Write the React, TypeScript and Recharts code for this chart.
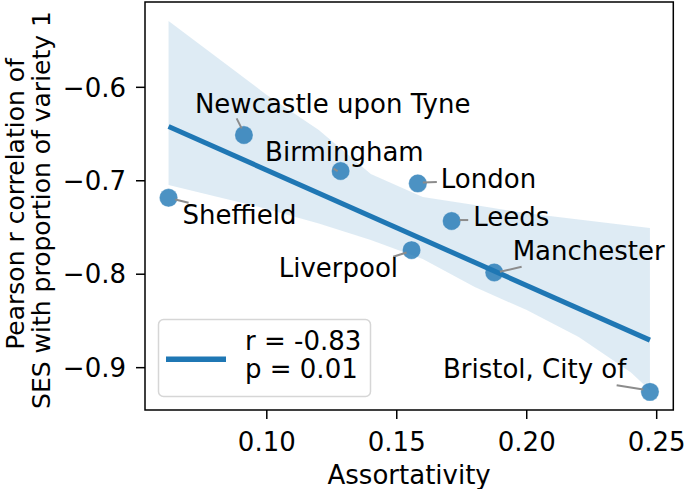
import React from "react";
import {
  Area,
  ComposedChart,
  Line,
  ReferenceArea,
  Scatter,
  XAxis,
  YAxis,
} from "recharts";

const FONT = '"DejaVu Sans", Verdana, sans-serif';
const BLUE = "#1f77b4";
const FS = 26;

// points
const cities = [
  "Sheffield",
  "Newcastle upon Tyne",
  "Birmingham",
  "London",
  "Leeds",
  "Liverpool",
  "Manchester",
  "Bristol, City of",
];
const assortativity = [0.0622, 0.0912, 0.1284, 0.1581, 0.1711, 0.1557, 0.1875, 0.2474];
const correlation = [-0.7182, -0.6511, -0.6896, -0.7028, -0.7431, -0.7742, -0.7981, -0.9259];

// fitted line, ends only
const fitX = [0.0622, 0.2474];
const fitY = [-0.642, -0.8705];

// confidence band edges
const bandX = [0.0622, 0.08, 0.1, 0.12, 0.14, 0.16, 0.18, 0.2, 0.22, 0.24, 0.2474];
const bandUpper = [-0.529, -0.5662, -0.6082, -0.6457, -0.6928, -0.7175, -0.726, -0.7348, -0.7414, -0.7482, -0.7506];
const bandLower = [-0.7046, -0.7165, -0.7301, -0.7458, -0.7634, -0.7838, -0.8138, -0.8384, -0.8673, -0.9048, -0.9241];

const xTicks = [0.1, 0.15, 0.2, 0.25];
const yTicks = [-0.6, -0.7, -0.8, -0.9];
const xDomain = [0.05314, 0.25639];
const yDomain = [-0.9453, -0.5087];

const rText = "r = -0.83";
const pText = "p = 0.01";

const points = cities.map((name, i) => ({ name, x: assortativity[i], y: correlation[i] }));

const lineData = bandX.map((x, i) => {
  const j = fitX.indexOf(x);
  return { x, band: [bandLower[i], bandUpper[i]], fit: j >= 0 ? fitY[j] : null };
});

// where each annotation sits relative to its point (px)
const labelPos: Record<string, { tx: number; ty: number; anchor: string; from: number[]; to: number[] }> = {
  "Sheffield": { tx: 14, ty: 26, anchor: "start", from: [20, 5], to: [6.7, 1.7] },
  "Newcastle upon Tyne": { tx: -49, ty: -21.7, anchor: "start", from: [-7.3, -16.7], to: [-2.3, -6.7] },
  "Birmingham": { tx: -75.5, ty: -10, anchor: "start", from: [-7, -2.5], to: [-3, 0] },
  "London": { tx: 23, ty: 4.5, anchor: "start", from: [19, -1.5], to: [5, -1] },
  "Leeds": { tx: 21.6, ty: 5, anchor: "start", from: [16.6, -1], to: [8, -1] },
  "Liverpool": { tx: -13.5, ty: 26.7, anchor: "end", from: [-18.4, 6.7], to: [-5, 2.4] },
  "Manchester": { tx: 18.4, ty: -12.3, anchor: "start", from: [27.4, -5.6], to: [5.7, -0.6] },
  "Bristol, City of": { tx: -207, ty: -13.4, anchor: "start", from: [-33.3, -6.7], to: [-6.7, -2.4] },
};

const Dot = (props: any) => {
  const { cx, cy } = props;
  if (cx == null || cy == null) return null;
  return (
    <circle cx={cx} cy={cy} r={9.2} fill={BLUE} fillOpacity={0.8} stroke="#ffffff" strokeOpacity={0.35} strokeWidth={1} />
  );
};

const Annotation = (props: any) => {
  const { cx, cy, payload } = props;
  const p = labelPos[payload?.name];
  if (!p || cx == null) return null;
  return (
    <g>
      <line
        x1={cx + p.from[0]}
        y1={cy + p.from[1]}
        x2={cx + p.to[0]}
        y2={cy + p.to[1]}
        stroke="#8c8c8c"
        strokeWidth={2}
      />
      <text x={cx + p.tx} y={cy + p.ty} textAnchor={p.anchor} fontSize={FS} fontFamily={FONT} fill="#000">
        {payload.name}
      </text>
    </g>
  );
};

const YLabel = (props: any) => {
  const { viewBox } = props;
  const cy = viewBox.y + viewBox.height / 2;
  return (
    <g fontSize={25} fontFamily={FONT} fill="#000" textAnchor="middle">
      <text x={23.5} y={cy - 2} transform={`rotate(-90, 23.5, ${cy - 2})`}>
        Pearson r correlation of
      </text>
      <text x={50} y={cy + 4} transform={`rotate(-90, 50, ${cy + 4})`}>
        SES with proportion of variety 1
      </text>
    </g>
  );
};

const XLabel = (props: any) => {
  const { viewBox } = props;
  return (
    <text
      x={viewBox.x + viewBox.width / 2}
      y={viewBox.y + 74}
      textAnchor="middle"
      fontSize={FS}
      fontFamily={FONT}
      fill="#000"
    >
      Assortativity
    </text>
  );
};

const tickStyle = { fill: "#000", fontSize: FS, fontFamily: FONT };

export default function App() {
  return (
    <div style={{ position: "absolute", left: 0, top: 0, width: 685, height: 489, background: "#fff" }}>
      <ComposedChart width={685} height={489} data={lineData} margin={{ top: 2, right: 11.7, bottom: 0, left: 0 }}>
        <XAxis
          type="number"
          dataKey="x"
          domain={xDomain}
          ticks={xTicks}
          tickFormatter={(v: number) => v.toFixed(2)}
          height={79}
          axisLine={false}
          tickLine={{ stroke: "#000", strokeWidth: 1.5 }}
          tickSize={9}
          tickMargin={14}
          tick={tickStyle}
          label={{ content: XLabel }}
        />
        <YAxis
          type="number"
          domain={yDomain}
          ticks={yTicks}
          tickFormatter={(v: number) => v.toFixed(1).replace("-", "\u2212")}
          width={145}
          axisLine={false}
          tickLine={{ stroke: "#000", strokeWidth: 1.5 }}
          tickSize={9}
          tickMargin={10}
          tick={tickStyle}
          label={{ content: YLabel }}
        />
        <Area
          type="linear"
          dataKey="band"
          stroke="none"
          fill={BLUE}
          fillOpacity={0.15}
          isAnimationActive={false}
          activeDot={false}
        />
        <Scatter data={points} dataKey="y" shape={Dot} isAnimationActive={false} />
        <Line
          type="linear"
          dataKey="fit"
          stroke={BLUE}
          strokeWidth={5}
          dot={false}
          activeDot={false}
          connectNulls
          isAnimationActive={false}
          zIndex={650}
        />
        <Scatter data={points} dataKey="y" shape={Annotation} isAnimationActive={false} zIndex={700} />
        <ReferenceArea
          x1={xDomain[0]}
          x2={xDomain[1]}
          y1={yDomain[0]}
          y2={yDomain[1]}
          fill="none"
          stroke="#000"
          strokeWidth={1.5}
          ifOverflow="visible"
        />
      </ComposedChart>
      <svg
        width={685}
        height={489}
        style={{ position: "absolute", left: 0, top: 0, pointerEvents: "none" }}
      >
        <rect x={158.5} y={319.5} width={212} height={77} rx={5} fill="#fff" fillOpacity={0.8} stroke="#d6d6d6" strokeWidth={1.5} />
        <line x1={166} y1={359.3} x2={226} y2={359.3} stroke={BLUE} strokeWidth={5.5} />
        <text x={245} y={350} fontSize={FS} fontFamily={FONT} fill="#000">
          {rText}
        </text>
        <text x={245} y={378.3} fontSize={FS} fontFamily={FONT} fill="#000">
          {pText}
        </text>
      </svg>
    </div>
  );
}
